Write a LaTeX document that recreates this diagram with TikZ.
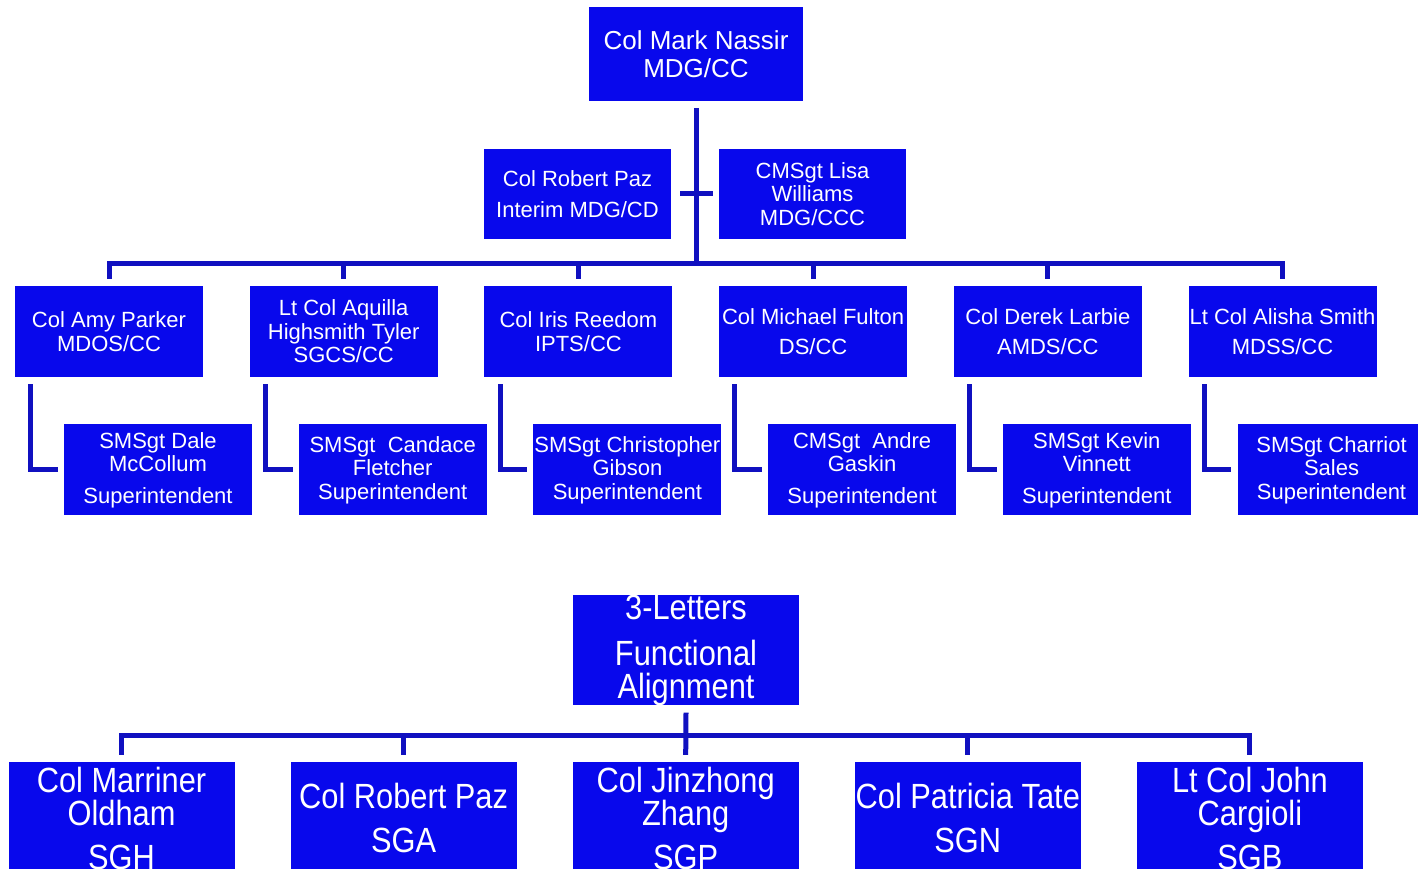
\documentclass[tikz,border=0pt]{standalone}
\usepackage{fontspec}
\setmainfont{Liberation Sans}
\newfontfamily\narrowsans[FakeStretch=0.88]{Liberation Sans}
\usetikzlibrary{positioning}
\definecolor{boxblue}{RGB}{8,8,236}
\definecolor{lineblue}{RGB}{16,16,192}

\begin{document}
\begin{tikzpicture}[
    x=1pt, y=-1pt,
    box/.style={fill=boxblue, text=white, align=center, inner sep=0pt},
    cmd/.style={box, minimum width=214pt, minimum height=94pt, font=\fontsize{26}{28}\selectfont},
    staff/.style={box, minimum width=187pt, minimum height=90pt, font=\fontsize{22}{23.5}\selectfont},
    unit/.style={box, minimum width=188pt, minimum height=91pt, font=\fontsize{22}{23.5}\selectfont},
    supt/.style={unit},
    func/.style={box, minimum width=226pt, minimum height=110pt, font=\narrowsans\fontsize{35}{33}\selectfont},
    link/.style={draw=lineblue, line width=5pt, line join=miter}
  ]
    \clip (0,0) rectangle (1418,869);
    \fill[white] (0,0) rectangle (1418,869);

    % command section
    \node[cmd] (mdg) at (696,54) {Col Mark Nassir\\MDG/CC};
    \node[staff] (cd) at (577.5,194) {Col Robert Paz\\[7pt]Interim MDG/CD};
    \node[staff] (ccc) at (812.5,194) {CMSgt Lisa\\Williams\\MDG/CCC};

    \node[unit] (a1) at (109,331.5) {Col Amy Parker\\MDOS/CC};
    \node[unit, right=46.3pt of a1] (a2) {Lt Col Aquilla\\Highsmith Tyler\\SGCS/CC};
    \node[unit, right=46.3pt of a2] (a3) {Col Iris Reedom\\IPTS/CC};
    \node[unit, right=46.3pt of a3] (a4) {Col Michael Fulton\\[7pt]DS/CC};
    \node[unit, right=46.3pt of a4] (a5) {Col Derek Larbie\\[7pt]AMDS/CC};
    \node[unit, right=46.3pt of a5] (a6) {Lt Col Alisha Smith\\[7pt]MDSS/CC};

    \node[supt, below right=47pt and 49pt of a1.south west] (s1) {SMSgt Dale\\McCollum\\[8pt]Superintendent};
    \node[supt, below right=47pt and 49pt of a2.south west] (s2) {SMSgt~~Candace\\Fletcher\\Superintendent};
    \node[supt, below right=47pt and 49pt of a3.south west] (s3) {SMSgt Christopher\\Gibson\\Superintendent};
    \node[supt, below right=47pt and 49pt of a4.south west] (s4) {CMSgt~~Andre\\Gaskin\\[8pt]Superintendent};
    \node[supt, below right=47pt and 49pt of a5.south west] (s5) {SMSgt Kevin\\Vinnett\\[8pt]Superintendent};
    \node[supt, below right=47pt and 49pt of a6.south west] (s6) {SMSgt Charriot\\Sales\\Superintendent};

    \coordinate (bus) at (696,263);
    \draw[link] ([yshift=-7pt]mdg.south) -- (bus);
    \draw[link] ([xshift=9pt]cd.east) -- ([xshift=-6pt]ccc.west);
    \draw[link] ([yshift=7pt]a1.north) -- (a1 |- bus) -- (a6 |- bus) -- ([yshift=7pt]a6.north);
    \draw[link] (a2 |- bus) -- ([yshift=7pt]a2.north);
    \draw[link] (a3 |- bus) -- ([yshift=7pt]a3.north);
    \draw[link] (a4 |- bus) -- ([yshift=7pt]a4.north);
    \draw[link] (a5 |- bus) -- ([yshift=7pt]a5.north);

    \draw[link] ([xshift=16pt,yshift=-7pt]a1.south west) |- ([xshift=-6pt]s1.west);
    \draw[link] ([xshift=16pt,yshift=-7pt]a2.south west) |- ([xshift=-6pt]s2.west);
    \draw[link] ([xshift=16pt,yshift=-7pt]a3.south west) |- ([xshift=-6pt]s3.west);
    \draw[link] ([xshift=16pt,yshift=-7pt]a4.south west) |- ([xshift=-6pt]s4.west);
    \draw[link] ([xshift=16pt,yshift=-7pt]a5.south west) |- ([xshift=-6pt]s5.west);
    \draw[link] ([xshift=16pt,yshift=-7pt]a6.south west) |- ([xshift=-6pt]s6.west);

    % functional alignment
    \node[func] (fa) at (686,650) {3-Letters\\[13pt]Functional\\Alignment};
    \node[func, minimum height=112pt] (b1) at (121.5,818) {Col Marriner\\Oldham\\[11pt]SGH};
    \node[func, minimum height=112pt, right=55.7pt of b1] (b2) {Col Robert Paz\\[11pt]SGA};
    \node[func, minimum height=112pt, right=55.7pt of b2] (b3) {Col Jinzhong\\Zhang\\[11pt]SGP};
    \node[func, minimum height=112pt, right=55.7pt of b3] (b4) {Col Patricia Tate\\[11pt]SGN};
    \node[func, minimum height=112pt, right=55.7pt of b4] (b5) {Lt Col John\\Cargioli\\[11pt]SGB};

    \coordinate (bus2) at (686,735);
    \draw[link] ([yshift=-7pt]fa.south) -- ([yshift=7pt]b3.north);
    \draw[link] ([yshift=7pt]b1.north) -- (b1 |- bus2) -- (b5 |- bus2) -- ([yshift=7pt]b5.north);
    \draw[link] (b2 |- bus2) -- ([yshift=7pt]b2.north);
    \draw[link] (b4 |- bus2) -- ([yshift=7pt]b4.north);
  \end{tikzpicture}
\end{document}
